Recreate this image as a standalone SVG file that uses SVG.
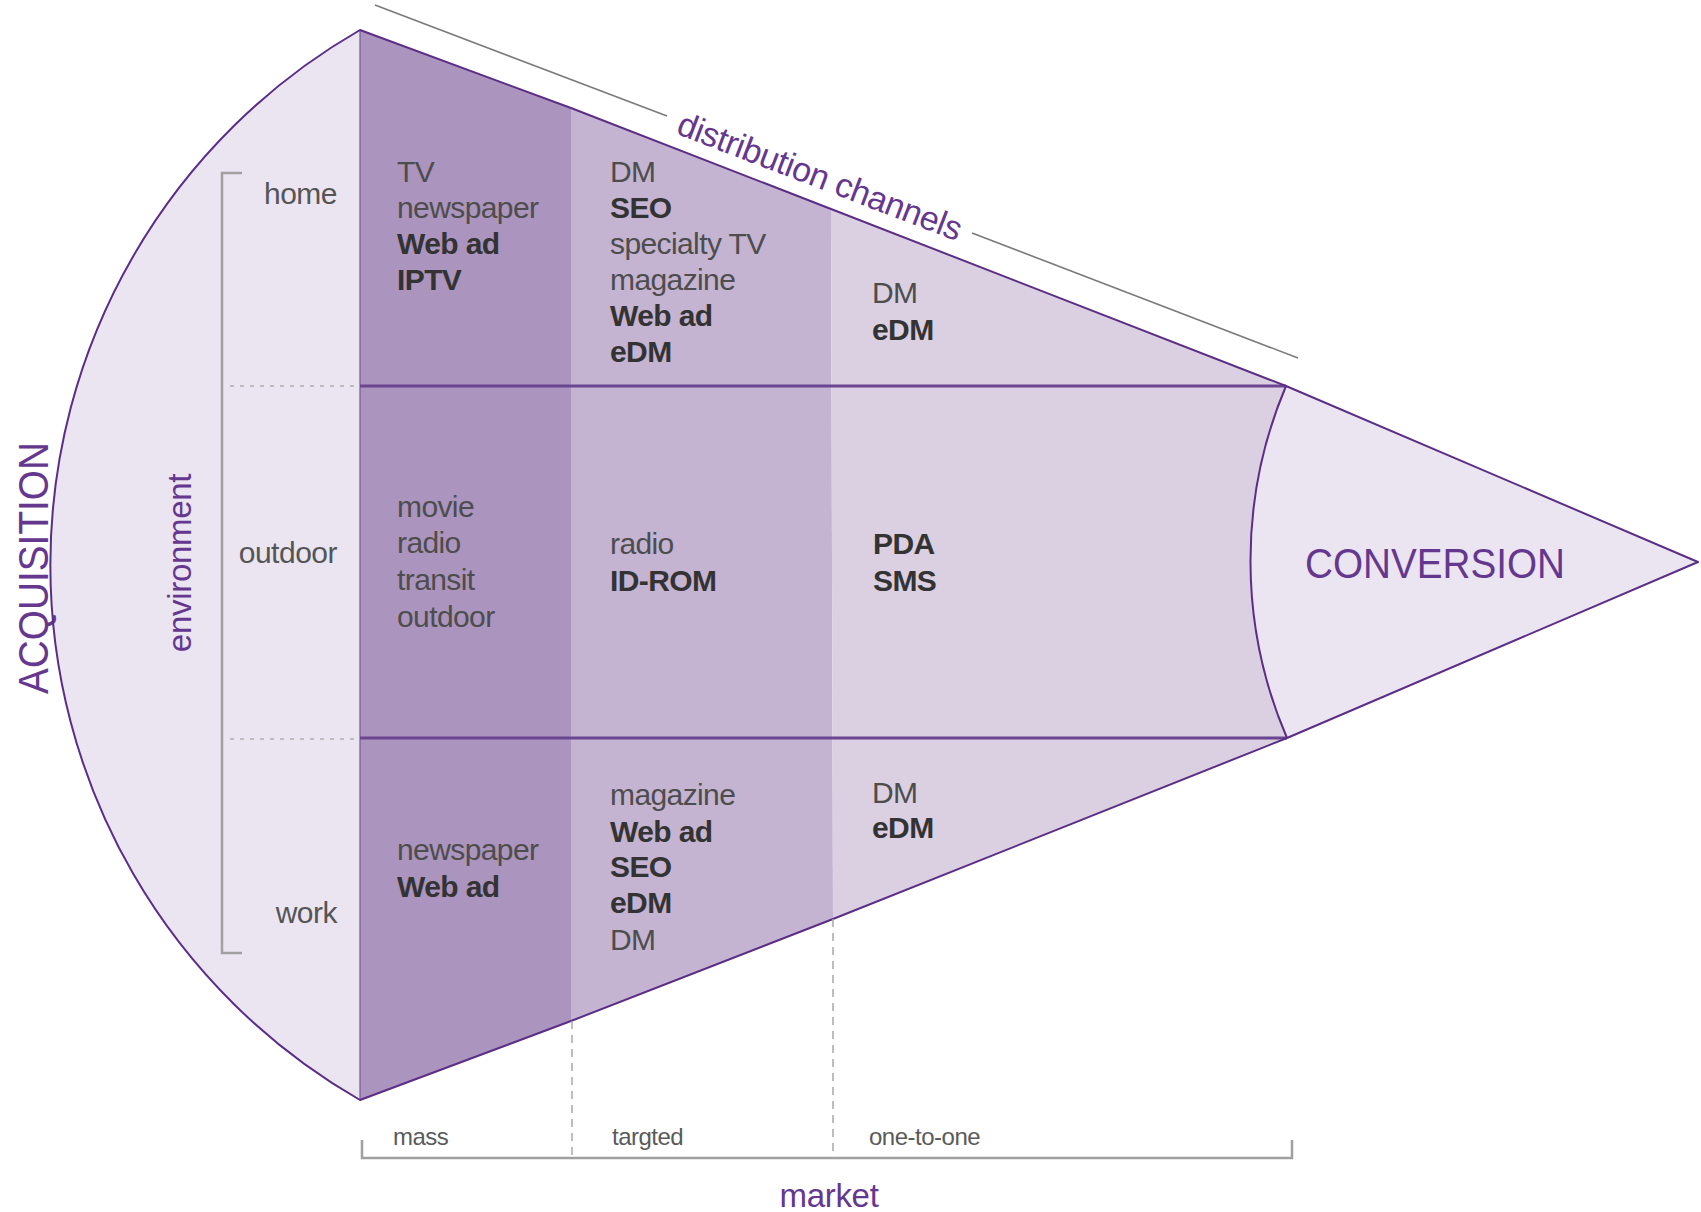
<svg xmlns="http://www.w3.org/2000/svg" width="1701" height="1212" viewBox="0 0 1701 1212">
  <style>
    .t { font-family: "Liberation Sans", Arial, sans-serif; font-size: 30px; fill: #4d4d4d; letter-spacing: -0.6px; }
    .b { font-weight: bold; fill: #333333; }
    .lbl { font-family: "Liberation Sans", Arial, sans-serif; font-size: 30px; fill: #555555; letter-spacing: -0.5px; text-anchor: end; }
    .mk { font-family: "Liberation Sans", Arial, sans-serif; font-size: 24px; fill: #5a5a5a; letter-spacing: -0.5px; }
    .big { font-family: "Liberation Sans", Arial, sans-serif; font-size: 42px; fill: #65378f; }
    .pl { font-family: "Liberation Sans", Arial, sans-serif; fill: #65378f; }
    .edge { fill: none; stroke: #5b2d87; stroke-width: 2; stroke-linejoin: round; }
    .row { stroke: #6a4590; stroke-width: 3; }
    .gray { fill: none; stroke: #a0a0a0; stroke-width: 2.5; }
    .dashh { stroke: #bdbdbd; stroke-width: 2; stroke-dasharray: 4 6; }
    .dashv { stroke: #a8a8a8; stroke-width: 1.5; stroke-dasharray: 8 6; }
  </style>

  <!-- acquisition arc region -->
  <g id="acquisition">
    <path d="M360,30 A617,617 0 0 0 360,1100 Z" fill="#ebe5f1"/>
    <text class="big" transform="translate(48,568) rotate(-90)" text-anchor="middle" textLength="252" lengthAdjust="spacingAndGlyphs">ACQUISITION</text>
  </g>

  <!-- market columns -->
  <g id="col-mass">
    <path d="M360,30 L571,108 L571,1021 L360,1100 Z" fill="#ab94bd"/>
  </g>
  <g id="col-targeted">
    <path d="M571,108 L831,209 L833,919 L571,1021 Z" fill="#c4b3d1"/>
  </g>
  <g id="col-one-to-one">
    <path d="M831,209 L1286,386 A448,448 0 0 0 1287,738 L833,919 Z" fill="#dbcfe2"/>
  </g>

  <!-- conversion wedge -->
  <g id="conversion">
    <path d="M1286,386 L1698,562 L1287,738 A448,448 0 0 1 1286,386 Z" fill="#ebe5f1"/>
    <text class="big" x="1435" y="578" text-anchor="middle" textLength="260" lengthAdjust="spacingAndGlyphs">CONVERSION</text>
  </g>

  <!-- outlines and row dividers -->
  <g id="outline">
    <line x1="360" y1="30" x2="360" y2="1100" stroke="#7a569c" stroke-width="1.2"/>
    <line class="row" x1="360" y1="386" x2="1286" y2="386"/>
    <line class="row" x1="360" y1="738" x2="1287" y2="738"/>
    <path class="edge" d="M1286,386 A448,448 0 0 0 1287,738"/>
    <path class="edge" d="M360,30 L571,108 L831,209 L1286,386 L1698,562 L1287,738 L833,919 L571,1021 L360,1100 A617,617 0 0 1 360,30 Z"/>
  </g>

  <!-- guides, brackets and dashed markers -->
  <g id="connectors">
    <line class="dashh" x1="230" y1="386" x2="358" y2="386"/>
    <line class="dashh" x1="230" y1="739" x2="358" y2="739"/>
    <path class="gray" d="M242,173 L222,173 L222,953 L242,953"/>
    <path class="gray" d="M362,1140 L362,1158 L1292,1158 L1292,1140"/>
    <line class="dashv" x1="572" y1="1021" x2="572" y2="1158"/>
    <line class="dashv" x1="833" y1="919" x2="833" y2="1158"/>
    <line x1="375" y1="5" x2="667" y2="116" stroke="#7a7a7a" stroke-width="1.6"/>
    <line x1="972" y1="233" x2="1298" y2="358" stroke="#7a7a7a" stroke-width="1.6"/>
  </g>

  <!-- axis labels -->
  <g id="axis-labels">
    <text class="pl" font-size="34" transform="translate(820,176) rotate(20.93)" text-anchor="middle" dominant-baseline="central" letter-spacing="-0.4">distribution channels</text>
    <text class="pl" font-size="33" transform="translate(191,563) rotate(-90)" text-anchor="middle" letter-spacing="-0.3">environment</text>
    <text class="pl" font-size="33" x="829" y="1207" text-anchor="middle" letter-spacing="-0.3">market</text>
    <text class="lbl" x="337" y="204">home</text>
    <text class="lbl" x="337" y="563">outdoor</text>
    <text class="lbl" x="337" y="923">work</text>
    <text class="mk" x="393" y="1145">mass</text>
    <text class="mk" x="612" y="1145">targted</text>
    <text class="mk" x="869" y="1145">one-to-one</text>
  </g>

  <!-- home row -->
  <g id="home-mass">
    <text class="t" x="397" y="182">TV</text>
    <text class="t" x="397" y="218">newspaper</text>
    <text class="t b" x="397" y="254">Web ad</text>
    <text class="t b" x="397" y="290">IPTV</text>
  </g>
  <g id="home-targeted">
    <text class="t" x="610" y="182">DM</text>
    <text class="t b" x="610" y="218">SEO</text>
    <text class="t" x="610" y="254">specialty TV</text>
    <text class="t" x="610" y="290">magazine</text>
    <text class="t b" x="610" y="326">Web ad</text>
    <text class="t b" x="610" y="362">eDM</text>
  </g>
  <g id="home-one-to-one">
    <text class="t" x="872" y="303">DM</text>
    <text class="t b" x="872" y="340">eDM</text>
  </g>

  <!-- outdoor row -->
  <g id="outdoor-mass">
    <text class="t" x="397" y="517">movie</text>
    <text class="t" x="397" y="553">radio</text>
    <text class="t" x="397" y="590">transit</text>
    <text class="t" x="397" y="627">outdoor</text>
  </g>
  <g id="outdoor-targeted">
    <text class="t" x="610" y="554">radio</text>
    <text class="t b" x="610" y="591">ID-ROM</text>
  </g>
  <g id="outdoor-one-to-one">
    <text class="t b" x="873" y="554">PDA</text>
    <text class="t b" x="873" y="591">SMS</text>
  </g>

  <!-- work row -->
  <g id="work-mass">
    <text class="t" x="397" y="860">newspaper</text>
    <text class="t b" x="397" y="897">Web ad</text>
  </g>
  <g id="work-targeted">
    <text class="t" x="610" y="805">magazine</text>
    <text class="t b" x="610" y="842">Web ad</text>
    <text class="t b" x="610" y="877">SEO</text>
    <text class="t b" x="610" y="913">eDM</text>
    <text class="t" x="610" y="950">DM</text>
  </g>
  <g id="work-one-to-one">
    <text class="t" x="872" y="803">DM</text>
    <text class="t b" x="872" y="838">eDM</text>
  </g>
</svg>
